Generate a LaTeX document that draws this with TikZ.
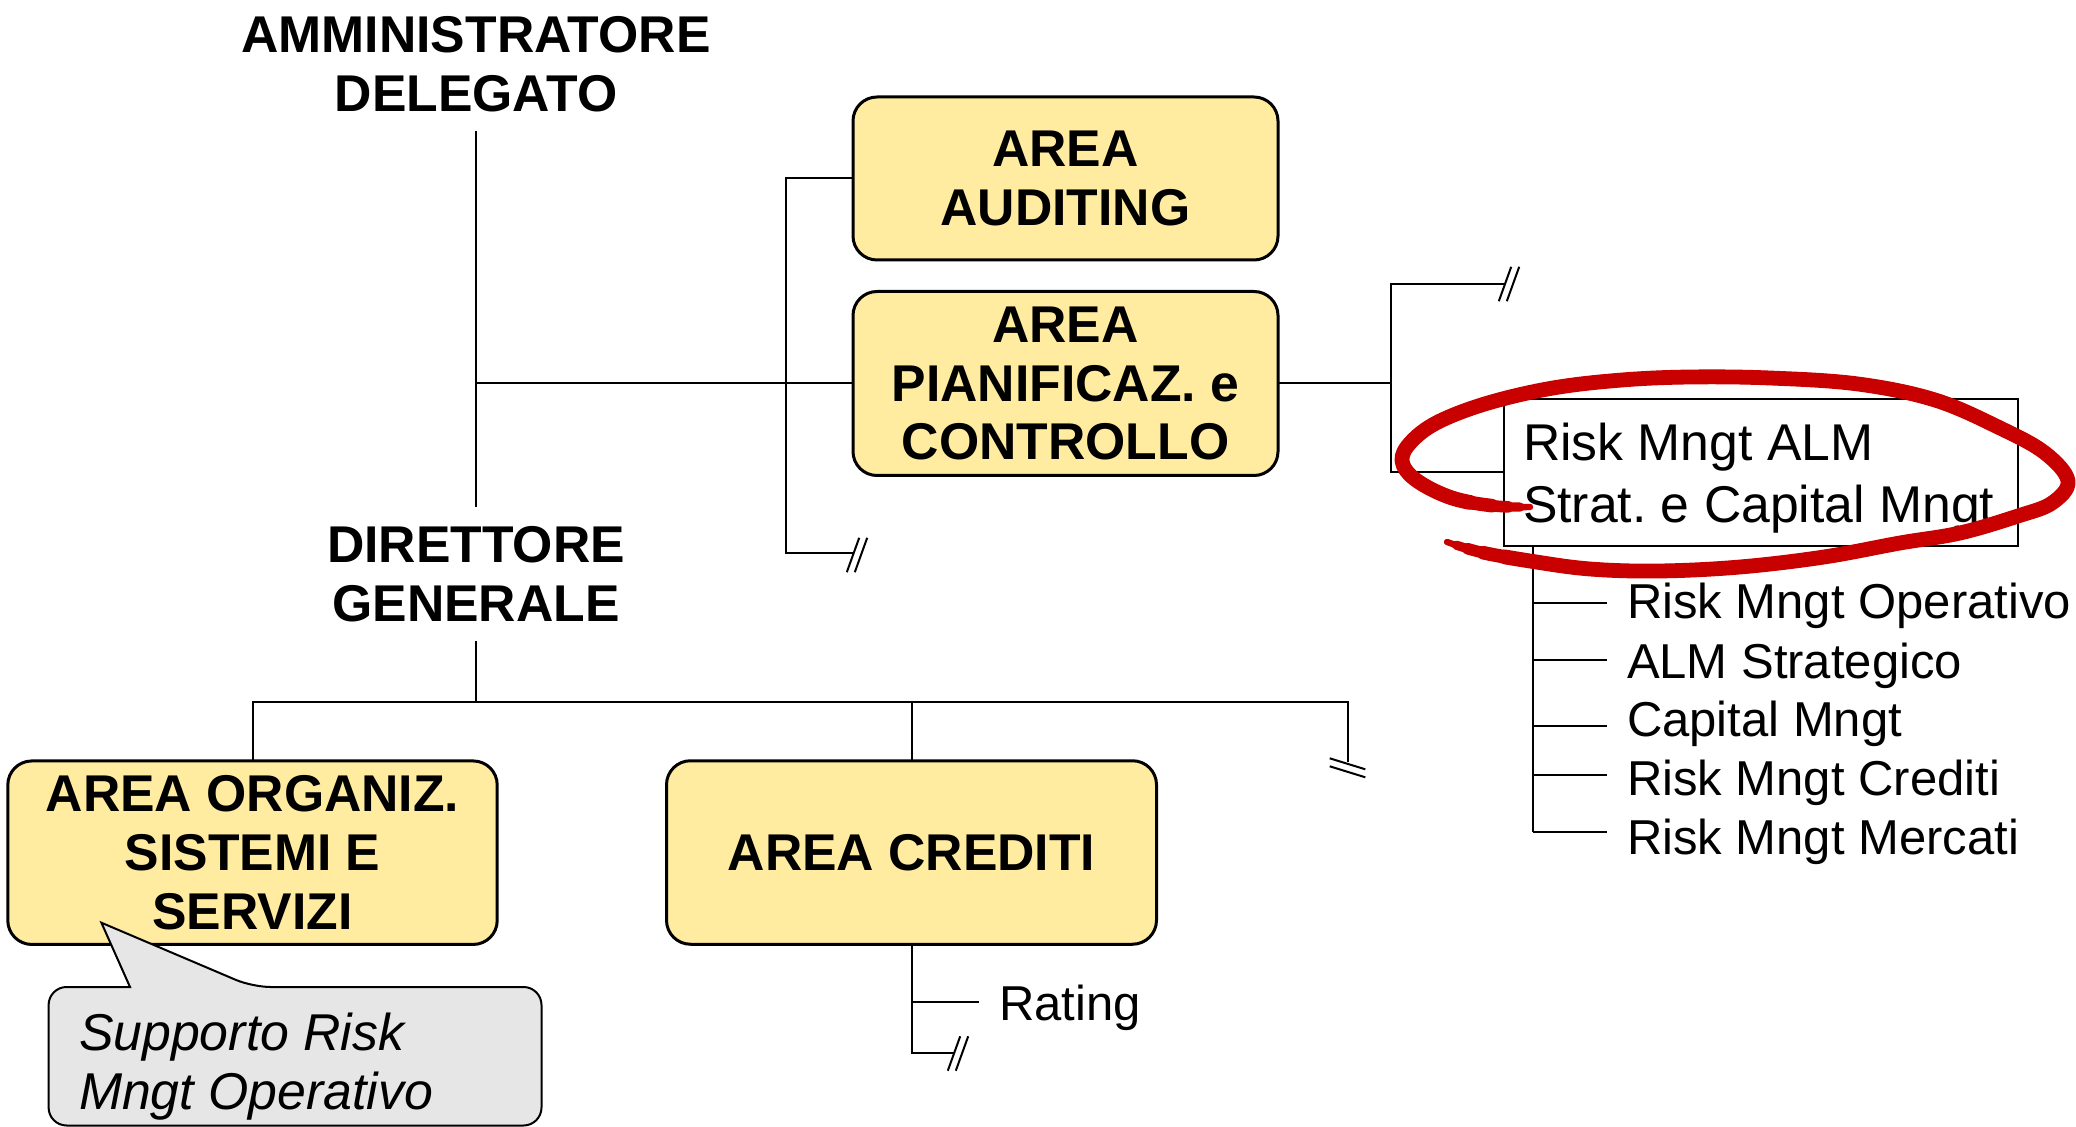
\documentclass[tikz,border=0pt]{standalone}
\usepackage{fontspec}
\setmainfont{Liberation Sans}
\usetikzlibrary{decorations.markings}
\frenchspacing
\definecolor{boxyellow}{RGB}{255,236,160}
\definecolor{notegray}{RGB}{230,230,230}
\definecolor{markred}{RGB}{200,0,0}
\tikzset{
  hbrk/.pic={\draw[line width=1pt] (-3.1pt,-8.6pt) -- (3.1pt,8.6pt) (0.9pt,-8.6pt) -- (7.1pt,8.6pt);},
  vbrk/.pic={\draw[line width=1pt] (-8.9pt,2.75pt) -- (8.9pt,-2.75pt) (-8.9pt,-1.25pt) -- (8.9pt,-6.75pt);}
}
\begin{document}
\begin{tikzpicture}[x=0.5pt,y=-0.5pt,
  every node/.style={inner sep=0pt, outer sep=0pt},
  conn/.style={line width=1pt},
  areabox/.style={draw, line width=1.5pt, fill=boxyellow, rounded corners=12pt, align=center,
    font=\bfseries\fontsize{25.85pt}{29.3pt}\selectfont, minimum width=212.5pt},
  role/.style={align=center, font=\bfseries\fontsize{25.85pt}{29.3pt}\selectfont, inner ysep=9.5pt},
  unit/.style={anchor=base west, inner xsep=10pt, font=\fontsize{24.5pt}{28pt}\selectfont}
]
\useasboundingbox (0,0) rectangle (2076,1127);

% top management
\node[role] (ad) at (476,64.3) {AMMINISTRATORE\\DELEGATO};
\node[role] (dg) at (476,574) {DIRETTORE\\GENERALE};

% staff areas
\node[areabox, minimum height=81.5pt] (aud) at (1065.5,178.5) {AREA\\AUDITING};
\node[areabox, minimum height=92pt] (pian) at (1065.5,383.5) {AREA\\PIANIFICAZ. e\\CONTROLLO};

% line areas
\node[areabox, minimum width=244.7pt, minimum height=91.75pt] (org) at (252.5,852.7) {AREA ORGANIZ.\\SISTEMI E\\SERVIZI};
\node[areabox, minimum width=245pt, minimum height=91.75pt] (cred) at (911.5,852.5) {AREA CREDITI};

% risk management unit
\node[draw, line width=1pt, fill=white, minimum width=257pt, minimum height=73.5pt] (rk) at (1761,472.5) {};
\node[anchor=north west, align=left, font=\fontsize{25.85pt}{31pt}\selectfont] (rkt) at (1523,423) {Risk Mngt ALM\\Strat. e Capital Mngt};

\node[unit] (u1) at (1607,619) {Risk Mngt Operativo};
\node[unit] (u2) at (1607,678) {ALM Strategico};
\node[unit] (u3) at (1607,736) {Capital Mngt};
\node[unit] (u4) at (1607,795) {Risk Mngt Crediti};
\node[unit] (u5) at (1607,854) {Risk Mngt Mercati};

\node[unit] (rat) at (979,1020) {Rating};

% connectors: top part
\coordinate (bA) at (786,553);
\coordinate (brkB) at (853,553);
\draw[conn] (ad.south) -- (dg.north);
\draw[conn] (ad.south |- pian.west) -- (pian.west);
\draw[conn] (aud.west) -| (bA) -- (brkB);
\pic at ([yshift=-1pt]brkB) {hbrk};

\coordinate (bTop) at (1391,284);
\coordinate (brkC) at (1505,284);
\draw[conn] (pian.east) -- (pian.east -| bTop);
\draw[conn] (brkC) -- (bTop) -- (bTop |- rk.west) -- (rk.west);
\pic at (brkC) {hbrk};

% sub-units of risk management
\coordinate (rtop) at ([xshift=14.5pt]rk.south west);
\coordinate (k1) at (1533,603);
\coordinate (k2) at (1533,660);
\coordinate (k3) at (1533,726);
\coordinate (k4) at (1533,775);
\coordinate (k5) at (1533,832);
\draw[conn] (rtop) -- (k5);
\foreach \i in {1,...,5} \draw[conn] (k\i) -- (k\i -| u\i.west);

% connectors: bottom part
\coordinate (bus) at (476,702);
\coordinate (brkR) at (1347.5,762);
\draw[conn] (dg.south) -- (bus);
\draw[conn] (org.north) |- (brkR |- bus) -- (brkR);
\draw[conn] (cred.north) -- (cred.north |- bus);
\pic at ([yshift=-0.9pt]brkR) {vbrk};

\coordinate (c1) at (911.5,1002);
\coordinate (c2) at (911.5,1052.5);
\coordinate (brkD) at (954,1052.5);
\draw[conn] (cred.south) -- (c2) -- (brkD);
\draw[conn] (c1) -- (c1 -| rat.west);
\pic at ([yshift=-0.5pt]brkD) {hbrk};

% callout
\draw[line width=1pt, fill=notegray, rounded corners=9pt]
  (130,987) -- (48.6,987) -- (48.6,1125.5) -- (541.5,1125.5) -- (541.5,987) -- (252.6,987)
  [sharp corners] -- (101.4,922.7) -- cycle;
\node[anchor=north west, align=left, font=\itshape\fontsize{25.9pt}{29.5pt}\selectfont] (note) at (79,1013) {Supporto Risk\\Mngt Operativo};

% hand-drawn highlight: measure the stroke, then draw it in layers that taper at both ends
\path[decorate, decoration={markings, mark=at position 0.5 with
    {\pgfmathsetmacro\tmplen{\pgfdecoratedpathlength}\global\let\redlen\tmplen}}]
  plot[smooth, tension=0.6] coordinates {
    (1530,507) (1495,506) (1452,498) (1416,480) (1402,461) (1411,442) (1438,422)
    (1488,403) (1553,388) (1622,380) (1690,377) (1770,378) (1858,384) (1935,400)
    (2000,428) (2045,453) (2068,481) (2052,503) (2018,516) (1960,533) (1900,543)
    (1824,557) (1740,567) (1659,571) (1590,569) (1530,561) (1480,552) (1447,542)};
\foreach \w/\a in {3.2/0, 4.6/5, 5.8/11, 6.8/19, 7.4/30} {
  \pgfmathsetmacro\onlen{\redlen-2*\a}
  \pgfmathsetmacro\phlen{\onlen+300-\a}
  \draw[markred, line width=\w pt, line cap=round, line join=round,
        dash pattern=on \onlen pt off 300pt, dash phase=\phlen pt]
    plot[smooth, tension=0.6] coordinates {
      (1530,507) (1495,506) (1452,498) (1416,480) (1402,461) (1411,442) (1438,422)
      (1488,403) (1553,388) (1622,380) (1690,377) (1770,378) (1858,384) (1935,400)
      (2000,428) (2045,453) (2068,481) (2052,503) (2018,516) (1960,533) (1900,543)
      (1824,557) (1740,567) (1659,571) (1590,569) (1530,561) (1480,552) (1447,542)};
}
\end{tikzpicture}
\end{document}
